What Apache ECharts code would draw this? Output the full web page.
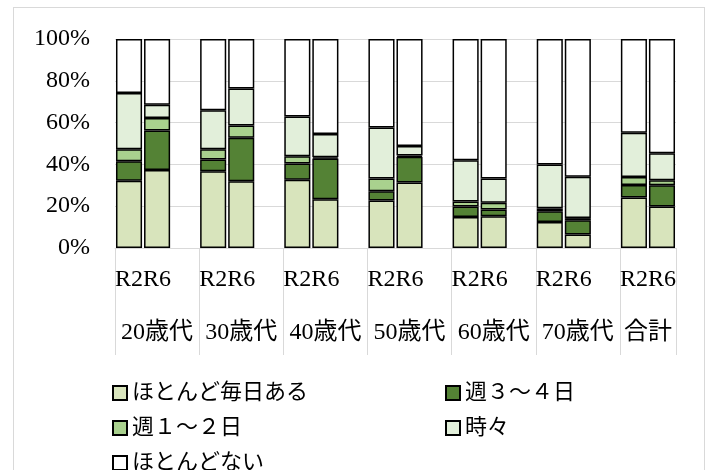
<!DOCTYPE html>
<html>
<head>
<meta charset="utf-8">
<script src="https://cdn.jsdelivr.net/npm/echarts@6/dist/echarts.min.js"></script>
<style>
  html, body { margin: 0; padding: 0; background: #fff; }
  #wrap { position: relative; width: 711px; height: 470px; overflow: hidden; }
  #chart { position: absolute; left: 0; top: 0; width: 711px; height: 470px; }
  #frame { position: absolute; left: 13px; top: 7px; width: 690px; height: 480px; border: 1px solid #d9d9d9; pointer-events: none; }
</style>
</head>
<body>
<div id="wrap"><div id="chart"></div><div id="frame"></div></div>
<script>
// ---- data ----
const groups = ['20歳代', '30歳代', '40歳代', '50歳代', '60歳代', '70歳代', '合計'];
const periods = ['R2', 'R6'];
const seriesNames = ['ほとんど毎日ある', '週３～４日', '週１～２日', '時々', 'ほとんどない'];
// values in % (one per group), R2 and R6
const everyDayR2  = [32.2, 36.7, 32.7, 22.7, 14.8, 12.5, 24.2];
const everyDayR6  = [37.3, 31.9, 23.3, 31.3, 15.2, 6.4, 19.8];
const week34R2    = [9.3, 5.6, 7.7, 4.4, 5.0, 5.1, 5.9];
const week34R6    = [18.9, 20.9, 19.5, 12.4, 3.2, 6.9, 10.2];
const week12R2    = [5.7, 4.9, 3.5, 6.2, 2.4, 1.4, 3.9];
const week12R6    = [6.0, 5.8, 0.6, 0.5, 3.3, 1.0, 2.4];
const sometimesR2 = [27.0, 18.7, 19.0, 24.3, 19.8, 20.9, 21.2];
const sometimesR6 = [6.4, 17.7, 11.1, 4.6, 11.6, 19.8, 12.9];
const rarelyR2    = [25.8, 34.1, 37.1, 42.4, 58.0, 60.1, 44.8];
const rarelyR6    = [31.4, 23.7, 45.5, 51.2, 66.7, 65.9, 54.7];
const yTicks = [0, 20, 40, 60, 80, 100];

const colors = ['#d8e4bc', '#548235', '#a9d18e', '#e2efda', '#ffffff'];
const seriesR2 = [everyDayR2, week34R2, week12R2, sometimesR2, rarelyR2];
const seriesR6 = [everyDayR6, week34R6, week12R6, sometimesR6, rarelyR6];

// build category slots: R2, R6, (blank spacer except after last group)
const cats = [];
const groupCenters = {};
groups.forEach((g, gi) => {
  const start = cats.length;
  periods.forEach(p => cats.push(p));
  if (gi < groups.length - 1) cats.push('');
  groupCenters[(start + (cats.length - start) / 2).toFixed(2)] = g;
});

const series = seriesNames.map((name, si) => {
  const data = [];
  groups.forEach((g, gi) => {
    data.push(seriesR2[si][gi]);
    data.push(seriesR6[si][gi]);
    if (gi < groups.length - 1) data.push('-');
  });
  return {
    name: name,
    type: 'bar',
    stack: 'all',
    xAxisIndex: 0,
    barCategoryGap: '7%',
    data: data,
    itemStyle: { color: colors[si], borderColor: '#000', borderWidth: 1.5 },
    emphasis: { disabled: true }
  };
});

const FONT = "'Liberation Serif', 'Noto Sans CJK JP', serif";
// legend layout: [series index, left, top]
const legendSlots = [[0, 107, 377], [1, 440, 377], [2, 107, 412], [3, 440, 412], [4, 107, 447]];
const legends = legendSlots.map(([si, l, t]) => ({
  data: [seriesNames[si]],
  orient: 'horizontal',
  left: l, top: t,
  itemWidth: 14, itemHeight: 14,
  icon: 'rect',
  textStyle: { fontFamily: FONT, fontSize: 22, color: '#000' },
  selectedMode: false
}));

const chart = echarts.init(document.getElementById('chart'), null, { renderer: 'canvas' });
chart.setOption({
  animation: false,
  grid: { left: 115, right: 35, top: 39, bottom: 222, containLabel: false },
  xAxis: [
    {
      type: 'category',
      data: cats,
      axisLine: { show: true, lineStyle: { color: '#d9d9d9', width: 1 } },
      axisTick: {
        show: true, length: 107, lineStyle: { color: '#d9d9d9', width: 1 },
        interval: (idx) => idx % 3 === 0
      },
      axisLabel: { interval: 0, margin: 20, fontFamily: FONT, fontSize: 24, color: '#000' }
    },
    {
      type: 'value',
      position: 'bottom',
      min: 0,
      max: cats.length,
      interval: 0.5,
      axisLine: { show: false },
      axisTick: { show: false },
      splitLine: { show: false },
      axisLabel: {
        margin: 73, fontFamily: FONT, fontSize: 24, color: '#000',
        formatter: (v) => groupCenters[Number(v).toFixed(2)] || ''
      }
    }
  ],
  yAxis: {
    type: 'value',
    min: yTicks[0],
    max: yTicks[yTicks.length - 1],
    interval: yTicks[1] - yTicks[0],
    axisLine: { show: false },
    axisTick: { show: false },
    splitLine: { lineStyle: { color: '#d9d9d9', width: 1 } },
    axisLabel: { margin: 25, fontFamily: FONT, fontSize: 24, color: '#000', formatter: '{value}%' }
  },
  legend: legends,
  series: series
});
</script>
</body>
</html>
